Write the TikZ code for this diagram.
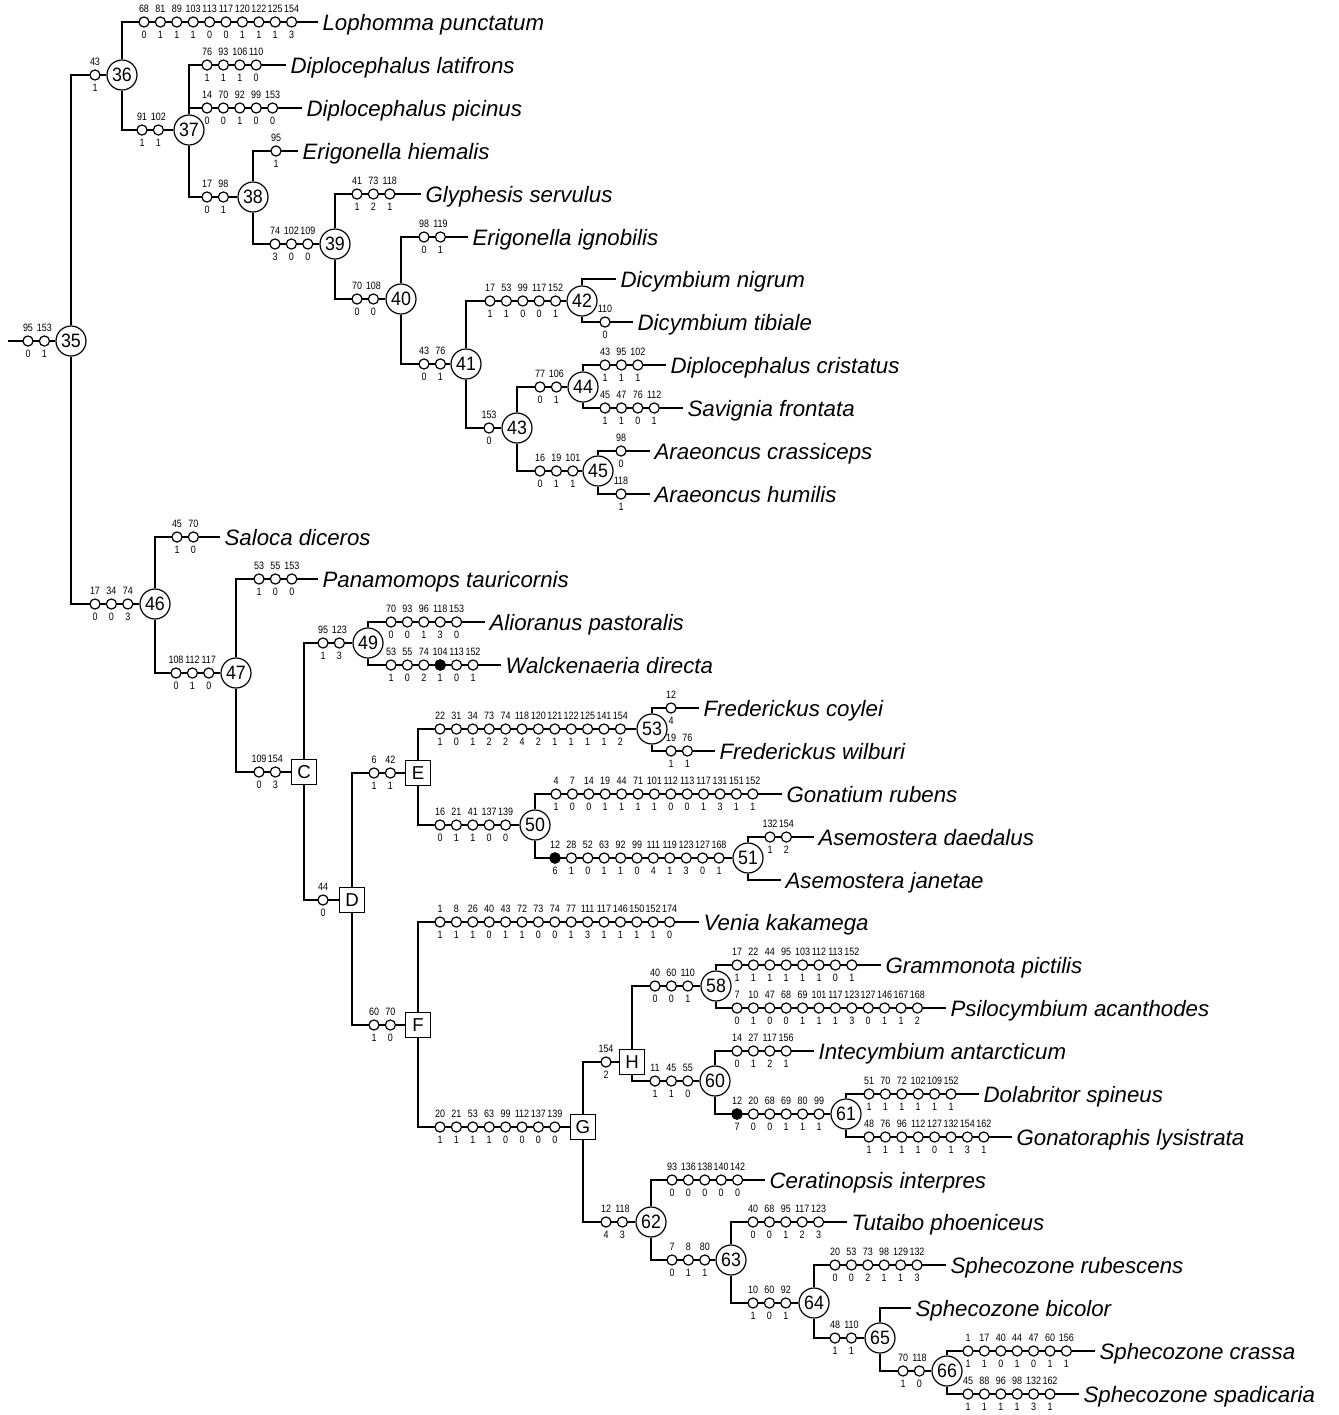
\documentclass[tikz,border=0pt]{standalone}
\usepackage{fontspec}
\setmainfont{Liberation Sans}
\newfontfamily\condfont[FakeStretch=0.84]{Liberation Sans}
\newfontfamily\nodefont[FakeStretch=0.92]{Liberation Sans}
\newcommand\mkchain[4]{%
  \foreach \ta/\bb [count=\i from 0] in {#4}{%
    \node[mk] (#1-\i) at ({#2+16.4*\i},#3) {};
    \node[lab] (#1-\i-t) at ({#2+16.4*\i},#3-13) {\ta};
    \node[lab] (#1-\i-b) at ({#2+16.4*\i},#3+12.5) {\bb};
  }}
\begin{document}
\begin{tikzpicture}[x=0.75pt,y=-0.75pt,line width=0.9pt,
  inode/.style={circle,draw,fill=white,minimum size=22.5pt,inner sep=0pt,font=\nodefont\fontsize{14.5}{14.5}\selectfont},
  snode/.style={rectangle,draw,fill=white,minimum size=18.5pt,inner sep=0pt,font=\fontsize{14}{14}\selectfont},
  taxon/.style={anchor=west,inner sep=3pt,text height=13pt,text depth=0pt,font=\fontsize{16.7}{16.7}\selectfont\itshape},
  mk/.style={circle,draw,fill=white,minimum size=7.6pt,inner sep=0pt},
  mkf/.style={circle,draw,fill=black,minimum size=7.6pt,inner sep=0pt},
  lab/.style={inner sep=0pt,font=\condfont\fontsize{8}{8}\selectfont}]
\useasboundingbox (0,0) rectangle (1339,1415);
% internal nodes
\coordinate (root) at (8,341);
\node[inode] (n35) at (71,341) {35};
\node[inode] (n36) at (122,75) {36};
\node[inode] (n37) at (189,130) {37};
\node[inode] (n38) at (253,197) {38};
\node[inode] (n39) at (335,244) {39};
\node[inode] (n40) at (401,299) {40};
\node[inode] (n41) at (466,364) {41};
\node[inode] (n42) at (582,301) {42};
\node[inode] (n43) at (517,428) {43};
\node[inode] (n44) at (583,387) {44};
\node[inode] (n45) at (598,471) {45};
\node[inode] (n46) at (155,604) {46};
\node[inode] (n47) at (236,673) {47};
\node[inode] (n49) at (368,643) {49};
\node[snode] (nC) at (304,772) {C};
\node[snode] (nD) at (352,900) {D};
\node[snode] (nE) at (418,773) {E};
\node[inode] (n53) at (652,729) {53};
\node[inode] (n50) at (535,825) {50};
\node[inode] (n51) at (748,858) {51};
\node[snode] (nF) at (418,1025) {F};
\node[snode] (nG) at (583,1127) {G};
\node[snode] (nH) at (632,1062) {H};
\node[inode] (n58) at (716,986) {58};
\node[inode] (n60) at (715,1081) {60};
\node[inode] (n61) at (846,1114) {61};
\node[inode] (n62) at (651,1222) {62};
\node[inode] (n63) at (731,1260) {63};
\node[inode] (n64) at (814,1303) {64};
\node[inode] (n65) at (880,1338) {65};
\node[inode] (n66) at (947,1371) {66};
% taxa
\node[taxon] (t0) at (318,22) {Lophomma punctatum};
\node[taxon] (t1) at (286,65) {Diplocephalus latifrons};
\node[taxon] (t2) at (302,108) {Diplocephalus picinus};
\node[taxon] (t3) at (298,151) {Erigonella hiemalis};
\node[taxon] (t4) at (421,194) {Glyphesis servulus};
\node[taxon] (t5) at (468,237) {Erigonella ignobilis};
\node[taxon] (t6) at (616,279) {Dicymbium nigrum};
\node[taxon] (t7) at (633,322) {Dicymbium tibiale};
\node[taxon] (t8) at (666,365) {Diplocephalus cristatus};
\node[taxon] (t9) at (683,408) {Savignia frontata};
\node[taxon] (t10) at (650,451) {Araeoncus crassiceps};
\node[taxon] (t11) at (650,494) {Araeoncus humilis};
\node[taxon] (t12) at (220,537) {Saloca diceros};
\node[taxon] (t13) at (318,579) {Panamomops tauricornis};
\node[taxon] (t14) at (485,622) {Alioranus pastoralis};
\node[taxon] (t15) at (501,665) {Walckenaeria directa};
\node[taxon] (t16) at (699,708) {Frederickus coylei};
\node[taxon] (t17) at (715,751) {Frederickus wilburi};
\node[taxon] (t18) at (782,794) {Gonatium rubens};
\node[taxon] (t19) at (814,837) {Asemostera daedalus};
\node[taxon] (t20) at (781,880) {Asemostera janetae};
\node[taxon] (t21) at (699,922) {Venia kakamega};
\node[taxon] (t22) at (881,965) {Grammonota pictilis};
\node[taxon] (t23) at (946,1008) {Psilocymbium acanthodes};
\node[taxon] (t24) at (814,1051) {Intecymbium antarcticum};
\node[taxon] (t25) at (979,1094) {Dolabritor spineus};
\node[taxon] (t26) at (1012,1137) {Gonatoraphis lysistrata};
\node[taxon] (t27) at (765,1180) {Ceratinopsis interpres};
\node[taxon] (t28) at (847,1222) {Tutaibo phoeniceus};
\node[taxon] (t29) at (946,1265) {Sphecozone rubescens};
\node[taxon] (t30) at (911,1308) {Sphecozone bicolor};
\node[taxon] (t31) at (1095,1351) {Sphecozone crassa};
\node[taxon] (t32) at (1079,1394) {Sphecozone spadicaria};
% connectors
\draw (root) -- (n35);
\draw (n35) |- (n36); \draw (n35) |- (n46);
\draw (n36) |- (t0.west); \draw (n36) |- (n37);
\draw (n37) |- (t1.west); \draw (n37) |- (t2.west); \draw (n37) |- (n38);
\draw (n38) |- (t3.west); \draw (n38) |- (n39);
\draw (n39) |- (t4.west); \draw (n39) |- (n40);
\draw (n40) |- (t5.west); \draw (n40) |- (n41);
\draw (n41) |- (n42); \draw (n41) |- (n43);
\draw (n42) |- (t6.west); \draw (n42) |- (t7.west);
\draw (n43) |- (n44); \draw (n43) |- (n45);
\draw (n44) |- (t8.west); \draw (n44) |- (t9.west);
\draw (n45) |- (t10.west); \draw (n45) |- (t11.west);
\draw (n46) |- (t12.west); \draw (n46) |- (n47);
\draw (n47) |- (t13.west); \draw (n47) |- (nC);
\draw (nC) |- (n49); \draw (nC) |- (nD);
\draw (n49) |- (t14.west); \draw (n49) |- (t15.west);
\draw (nD) |- (nE); \draw (nD) |- (nF);
\draw (nE) |- (n53); \draw (nE) |- (n50);
\draw (n53) |- (t16.west); \draw (n53) |- (t17.west);
\draw (n50) |- (t18.west); \draw (n50) |- (n51);
\draw (n51) |- (t19.west); \draw (n51) |- (t20.west);
\draw (nF) |- (t21.west); \draw (nF) |- (nG);
\draw (nG) |- (nH); \draw (nG) |- (n62);
\draw (nH) |- (n58); \draw (nH) |- (n60);
\draw (n58) |- (t22.west); \draw (n58) |- (t23.west);
\draw (n60) |- (t24.west); \draw (n60) |- (n61);
\draw (n61) |- (t25.west); \draw (n61) |- (t26.west);
\draw (n62) |- (t27.west); \draw (n62) |- (n63);
\draw (n63) |- (t28.west); \draw (n63) |- (n64);
\draw (n64) |- (t29.west); \draw (n64) |- (n65);
\draw (n65) |- (t30.west); \draw (n65) |- (n66);
\draw (n66) |- (t31.west); \draw (n66) |- (t32.west);
% character markers
\mkchain{r}{28}{341}{95/0,153/1}
\mkchain{a36}{95}{75}{43/1}
\mkchain{lop}{144}{22}{68/0,81/1,89/1,103/1,113/0,117/0,120/1,122/1,125/1,154/3}
\mkchain{a37}{142}{130}{91/1,102/1}
\mkchain{lat}{207}{65}{76/1,93/1,106/1,110/0}
\mkchain{pic}{207}{108}{14/0,70/0,92/1,99/0,153/0}
\mkchain{a38}{207}{197}{17/0,98/1}
\mkchain{hie}{276}{151}{95/1}
\mkchain{a39}{275}{244}{74/3,102/0,109/0}
\mkchain{gly}{357}{194}{41/1,73/2,118/1}
\mkchain{a40}{357}{299}{70/0,108/0}
\mkchain{ign}{424}{237}{98/0,119/1}
\mkchain{a41}{424}{364}{43/0,76/1}
\mkchain{a42}{490}{301}{17/1,53/1,99/0,117/0,152/1}
\mkchain{tib}{605}{322}{110/0}
\mkchain{a43}{489}{428}{153/0}
\mkchain{a44}{540}{387}{77/0,106/1}
\mkchain{cri}{605}{365}{43/1,95/1,102/1}
\mkchain{sav}{605}{408}{45/1,47/1,76/0,112/1}
\mkchain{a45}{540}{471}{16/0,19/1,101/1}
\mkchain{cra}{621}{451}{98/0}
\mkchain{hum}{621}{494}{118/1}
\mkchain{a46}{95}{604}{17/0,34/0,74/3}
\mkchain{sal}{177}{537}{45/1,70/0}
\mkchain{a47}{176}{673}{108/0,112/1,117/0}
\mkchain{pan}{259}{579}{53/1,55/0,153/0}
\mkchain{aC}{259}{772}{109/0,154/3}
\mkchain{a49}{323}{643}{95/1,123/3}
\mkchain{ali}{391}{622}{70/0,93/0,96/1,118/3,153/0}
\mkchain{wal}{391}{665}{53/1,55/0,74/2,104/1,113/0,152/1}
\node[mkf] (wal-f) at (wal-3) {};
\mkchain{aD}{323}{900}{44/0}
\mkchain{aE}{374}{773}{6/1,42/1}
\mkchain{a53}{440}{729}{22/1,31/0,34/1,73/2,74/2,118/4,120/2,121/1,122/1,125/1,141/1,154/2}
\mkchain{coy}{671}{708}{12/4}
\mkchain{wil}{671}{751}{19/1,76/1}
\mkchain{a50}{440}{825}{16/0,21/1,41/1,137/0,139/0}
\mkchain{gon}{556}{794}{4/1,7/0,14/0,19/1,44/1,71/1,101/1,112/0,113/0,117/1,131/3,151/1,152/1}
\mkchain{a51}{555}{858}{12/6,28/1,52/0,63/1,92/1,99/0,111/4,119/1,123/3,127/0,168/1}
\node[mkf] (a51-f) at (a51-0) {};
\mkchain{dae}{770}{837}{132/1,154/2}
\mkchain{aF}{374}{1025}{60/1,70/0}
\mkchain{ven}{440}{922}{1/1,8/1,26/1,40/0,43/1,72/1,73/0,74/0,77/1,111/3,117/1,146/1,150/1,152/1,174/0}
\mkchain{aG}{440}{1127}{20/1,21/1,53/1,63/1,99/0,112/0,137/0,139/0}
\mkchain{aH}{606}{1062}{154/2}
\mkchain{a58}{655}{986}{40/0,60/0,110/1}
\mkchain{gra}{737}{965}{17/1,22/1,44/1,95/1,103/1,112/1,113/0,152/1}
\mkchain{psi}{737}{1008}{7/0,10/1,47/0,68/0,69/1,101/1,117/1,123/3,127/0,146/1,167/1,168/2}
\mkchain{a60}{655}{1081}{11/1,45/1,55/0}
\mkchain{int}{737}{1051}{14/0,27/1,117/2,156/1}
\mkchain{a61}{737}{1114}{12/7,20/0,68/0,69/1,80/1,99/1}
\node[mkf] (a61-f) at (a61-0) {};
\mkchain{dol}{869}{1094}{51/1,70/1,72/1,102/1,109/1,152/1}
\mkchain{gtr}{869}{1137}{48/1,76/1,96/1,112/1,127/0,132/1,154/3,162/1}
\mkchain{a62}{606}{1222}{12/4,118/3}
\mkchain{cer}{672}{1180}{93/0,136/0,138/0,140/0,142/0}
\mkchain{a63}{672}{1260}{7/0,8/1,80/1}
\mkchain{tut}{753}{1222}{40/0,68/0,95/1,117/2,123/3}
\mkchain{a64}{753}{1303}{10/1,60/0,92/1}
\mkchain{rub}{835}{1265}{20/0,53/0,73/2,98/1,129/1,132/3}
\mkchain{a65}{835}{1338}{48/1,110/1}
\mkchain{a66}{903}{1371}{70/1,118/0}
\mkchain{crs}{968}{1351}{1/1,17/1,40/0,44/1,47/0,60/1,156/1}
\mkchain{spa}{968}{1394}{45/1,88/1,96/1,98/1,132/3,162/1}
\end{tikzpicture}
\end{document}
